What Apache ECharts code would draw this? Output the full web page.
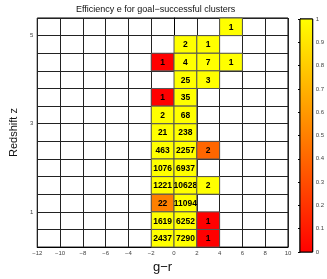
<!DOCTYPE html>
<html><head><meta charset="utf-8">
<script src="https://cdn.jsdelivr.net/npm/echarts@6/dist/echarts.min.js"></script>
<style>html,body{margin:0;padding:0;background:#fff}#c{width:327px;height:279px}</style>
</head><body><div id="c"></div>
<script>
// bin lower-left corners (g−r, z), cluster counts, efficiency e
const binLeftGR = [4, 0, 2, -2, 0, 2, 4, 0, 2, -2, 0, -2, 0, -2, 0, -2, 0, 2, -2, 0, -2, 0, 2, -2, 0, -2, 0, 2, -2, 0, 2];
const binLowZ   = [5.0, 4.6, 4.6, 4.2, 4.2, 4.2, 4.2, 3.8, 3.8, 3.4, 3.4, 3.0, 3.0, 2.6, 2.6, 2.2, 2.2, 2.2, 1.8, 1.8, 1.4, 1.4, 1.4, 1.0, 1.0, 0.6, 0.6, 0.6, 0.2, 0.2, 0.2];
const counts    = [1, 2, 1, 1, 4, 7, 1, 25, 3, 1, 35, 2, 68, 21, 238, 463, 2257, 2, 1076, 6937, 1221, 10628, 2, 22, 11094, 1619, 6252, 1, 2437, 7290, 1];
const efficiency= [1, 1, 1, 0, 1, 1, 1, 1, 1, 0, 1, 1, 1, 1, 1, 1, 1, 0.4, 1, 1, 1, 1, 1, 0.5, 1, 1, 1, 0, 1, 1, 0];
const binW = 2, binH = 0.4;
const xTicks = {min: -12, max: 10, interval: 2};
const zRange = {min: 0.2, max: 5.4, interval: 0.4};
const cbarRange = {min: 0, max: 1, interval: 0.1};

const cells = binLeftGR.map((x, i) => [x, binLowZ[i], counts[i], efficiency[i]]);
const minus = s => String(s).replace('-', '\u2212');

const chart = echarts.init(document.getElementById('c'), null, {renderer: 'canvas'});
chart.setOption({
  animation: false,
  backgroundColor: '#fff',
  title: {
    text: 'Efficiency e for goal\u2212successful clusters',
    left: 76, top: 5, padding: 0,
    textStyle: {fontSize: 9, fontWeight: 'normal', color: '#111', fontFamily: 'Liberation Sans, Arial, sans-serif'}
  },
  grid: [
    {left: 26, right: 39, top: 18, bottom: 25, show: true, borderColor: '#000', borderWidth: 1, containLabel: false},
    {left: 300, width: 13, top: 19, height: 233, show: true, borderColor: '#000', borderWidth: 1}
  ],
  visualMap: {
    show: false, type: 'continuous', seriesIndex: 0, dimension: 3,
    min: 0, max: 1, inRange: {color: ['#ff0000', '#ffff00']}
  },
  xAxis: [
    {
      type: 'value', gridIndex: 0, min: xTicks.min, max: xTicks.max, interval: xTicks.interval,
      name: 'g\u2212r', nameLocation: 'middle', nameGap: 11,
      nameTextStyle: {fontSize: 13, color: '#111', fontFamily: 'Liberation Sans, Arial, sans-serif'},
      axisLine: {show: true, lineStyle: {color: '#000', width: 1}},
      axisTick: {show: false},
      axisLabel: {fontSize: 6, color: '#444', margin: 3, formatter: v => minus(v), fontFamily: 'Liberation Sans, Arial, sans-serif'},
      splitLine: {show: true, lineStyle: {color: '#222', width: 1}}
    },
    {type: 'value', gridIndex: 1, min: 0, max: 1, show: false}
  ],
  yAxis: [
    {
      type: 'value', gridIndex: 0, min: zRange.min, max: zRange.max, interval: zRange.interval,
      name: 'Redshift z', nameLocation: 'middle', nameGap: 8,
      nameTextStyle: {fontSize: 11, color: '#111', fontFamily: 'Liberation Sans, Arial, sans-serif'},
      axisLine: {show: true, lineStyle: {color: '#000', width: 1}},
      axisTick: {show: false},
      axisLabel: {
        fontSize: 6, color: '#444', margin: 4, fontFamily: 'Liberation Sans, Arial, sans-serif',
        formatter: v => (Math.abs(v - Math.round(v)) < 1e-6 ? String(Math.round(v)) : '')
      },
      splitLine: {show: true, lineStyle: {color: '#222', width: 1}}
    },
    {
      type: 'value', gridIndex: 1, position: 'right', min: cbarRange.min, max: cbarRange.max, interval: cbarRange.interval,
      axisLine: {show: true, lineStyle: {color: '#000', width: 1}},
      axisTick: {show: true, inside: true, length: 2, lineStyle: {color: '#000'}},
      axisLabel: {fontSize: 6, color: '#444', margin: 3, fontFamily: 'Liberation Sans, Arial, sans-serif',
        formatter: v => String(Math.round(v * 10) / 10)},
      splitLine: {show: false}
    }
  ],
  series: [
    {
      type: 'custom', xAxisIndex: 0, yAxisIndex: 0,
      data: cells,
      encode: {x: 0, y: 1},
      renderItem: function (params, api) {
        const x0 = api.value(0), z0 = api.value(1);
        const p1 = api.coord([x0, z0 + binH]);
        const p2 = api.coord([x0 + binW, z0]);
        return {
          type: 'group',
          children: [
            {type: 'rect', shape: {x: p1[0], y: p1[1], width: p2[0] - p1[0], height: p2[1] - p1[1]},
             style: {fill: api.visual('color'), stroke: '#555', lineWidth: 1}},
            {type: 'text', style: {text: String(api.value(2)), x: (p1[0] + p2[0]) / 2, y: (p1[1] + p2[1]) / 2 + 0.5,
             align: 'center', verticalAlign: 'middle', fontSize: 8.5, fontWeight: 'bold',
             fontFamily: 'Liberation Sans, Arial, sans-serif', fill: '#000'}}
          ]
        };
      }
    },
    {
      type: 'custom', xAxisIndex: 1, yAxisIndex: 1,
      data: [[0, 0]],
      renderItem: function (params, api) {
        const pTop = api.coord([0, cbarRange.max]);
        const pBot = api.coord([1, cbarRange.min]);
        return {
          type: 'rect',
          shape: {x: pTop[0], y: pTop[1], width: pBot[0] - pTop[0], height: pBot[1] - pTop[1]},
          style: {
            fill: new echarts.graphic.LinearGradient(0, 0, 0, 1, [
              {offset: 0, color: '#ffff00'}, {offset: 1, color: '#ff0000'}
            ]),
            stroke: '#000', lineWidth: 1
          }
        };
      }
    }
  ]
});
</script></body></html>
